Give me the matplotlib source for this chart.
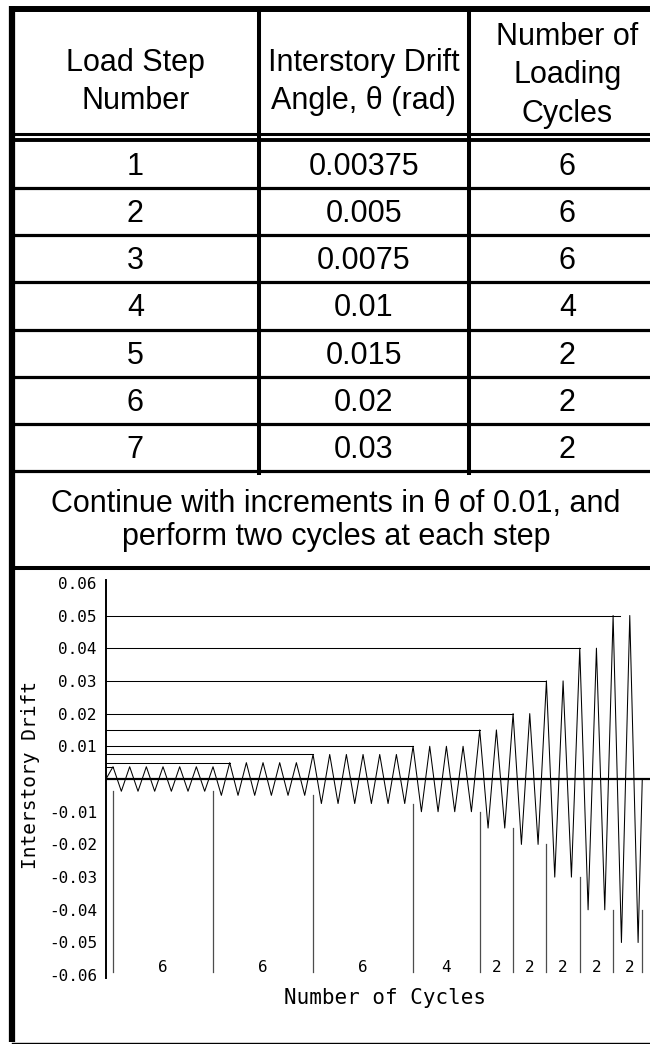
import matplotlib
matplotlib.use('agg')
import matplotlib.pyplot as plt

# loading protocol table
steps = [1, 2, 3, 4, 5, 6, 7]
step_drift = [0.00375, 0.005, 0.0075, 0.01, 0.015, 0.02, 0.03]
step_cycles = [6, 6, 6, 4, 2, 2, 2]
headers = [['Load Step', 'Number'],
           ['Interstory Drift', 'Angle, \u03b8 (rad)'],
           ['Number of', 'Loading', 'Cycles']]
note = ['Continue with increments in \u03b8 of 0.01, and',
        'perform two cycles at each step']

# loading history
group_drift = [0.00375, 0.005, 0.0075, 0.01, 0.015, 0.02, 0.03, 0.04, 0.05]
group_cycles = [6, 6, 6, 4, 2, 2, 2, 2, 2]
peak_drift = ([0.00375] * 7 + [0.005] * 5 + [0.0075] * 6 + [0.01] * 4 +
              [0.015] * 2 + [0.02] * 2 + [0.03] * 2 + [0.04] * 2 + [0.05] * 2)
trough_drift = ([0.00375] * 6 + [0.005] * 6 + [0.0075] * 6 + [0.01] * 4 +
                [0.015] * 2 + [0.02] * 2 + [0.03] * 2 + [0.04] * 2 + [0.05] * 2)
level_end = [0, 7, 12, 18, 22, 24, 26, 28, 30.4]
sep_top = [0.00375, 0.00375, 0.005, 0.0075, 0.01, 0.015, 0.02, 0.03, 0.04, 0.04]
yticks = [-0.06, -0.05, -0.04, -0.03, -0.02, -0.01,
          0.01, 0.02, 0.03, 0.04, 0.05, 0.06]

W, H = 650, 1044
fig = plt.figure(figsize=(W / 100, H / 100), dpi=100)

# overlay in pixel units for the table
frame = fig.add_axes([0, 0, 1, 1])
frame.set_xlim(0, W)
frame.set_ylim(H, 0)
frame.axis('off')

tab_font = ['Liberation Sans', 'DejaVu Sans']
x_left, x_right = 11.5, 700
col_edges = [x_left, 259, 468.5, 666]
col_mid = [(col_edges[i] + col_edges[i + 1]) / 2 for i in range(3)]

frame.plot([x_left, x_left], [6, H - 2], color='k', lw=4.5, solid_capstyle='butt')
frame.plot([x_left - 3, x_right], [9, 9], color='k', lw=4.3, solid_capstyle='butt')
frame.plot([x_left, x_right], [133.5, 133.5], color='k', lw=2.2)
frame.plot([x_left, x_right], [140, 140], color='k', lw=2.8)
frame.plot([x_left, x_right], [H - 1.5, H - 1.5], color='k', lw=1.0)

row_top = 141
row_h = 47.14
n_rows = len(steps)
for i in range(1, n_rows + 1):
    frame.plot([x_left, x_right], [row_top + i * row_h] * 2, color='k', lw=2.3)
for xc in col_edges[1:3]:
    frame.plot([xc, xc], [9, row_top + n_rows * row_h + 4], color='k', lw=2.9,
               solid_capstyle='butt')

# header cells, baselines spread around the cell middle
for j, lines in enumerate(headers):
    n = len(lines)
    mid = 90 if n == 2 else 83.5
    for k, line in enumerate(lines):
        yb = mid + (k - (n - 1) / 2) * 38.5
        frame.text(col_mid[j], yb, line, ha='center', va='baseline',
                   fontsize=22, family=tab_font)

# body rows
for i in range(n_rows):
    yb = row_top + i * row_h + 34
    vals = [str(steps[i]), str(step_drift[i]), str(step_cycles[i])]
    for j, v in enumerate(vals):
        frame.text(col_mid[j], yb, v, ha='center', va='baseline',
                   fontsize=22, family=tab_font)

frame.text(336, 512, note[0], ha='center', va='baseline', fontsize=22, family=tab_font)
frame.text(336, 545, note[1], ha='center', va='baseline', fontsize=22, family=tab_font)
frame.plot([x_left, x_right], [568, 568], color='k', lw=2.9)

# drift history chart
cyc_px = 16.67
x0_px = 113
ax_l, ax_r = 106, 650
y0_px, ypx = 779, 3270
y_top, y_bot = 0.062, -0.063
xmin = (ax_l - x0_px) / cyc_px
xmax = (ax_r - x0_px) / cyc_px
ax = fig.add_axes([ax_l / W, (H - (y0_px - y_bot * ypx)) / H,
                   (ax_r - ax_l) / W, (y_top - y_bot) * ypx / H])
ax.set_xlim(xmin, xmax)
ax.set_ylim(y_bot, y_top)
ax.patch.set_alpha(0)
for s in ['top', 'right', 'bottom']:
    ax.spines[s].set_visible(False)
ax.spines['left'].set_linewidth(1.4)
ax.spines['left'].set_bounds(-0.0608, 0.0608)
ax.set_xticks([])
ax.set_yticks(yticks)
ax.set_yticklabels([f'{v:.2f}' for v in yticks], family='DejaVu Sans Mono', fontsize=11.5)
ax.tick_params(axis='y', length=0, pad=6.5)

xs, ys = [xmin], [0.0]
for k in range(len(peak_drift)):
    xs += [k, k + 0.5]
    ys += [peak_drift[k], -trough_drift[k]]
xs.append(len(peak_drift) - 0.25)
ys.append(0.0)
ax.plot(xs, ys, color='k', lw=0.75)

for lev, xe in zip(group_drift, level_end):
    ax.plot([xmin, xe], [lev, lev], color='k', lw=0.75)

ax.axhline(0, color='k', lw=1.6)

starts = [0]
for n in group_cycles:
    starts.append(starts[-1] + n)
starts[-1] = starts[-1] - 0.25
for xs_, top in zip(starts, sep_top):
    ax.plot([xs_, xs_], [-top, -0.059], color='0.3', lw=0.9)
for s0, n in zip(starts[:-1], group_cycles):
    ax.text(s0 + n / 2, -0.0575, str(n), ha='center', va='center',
            family='DejaVu Sans Mono', fontsize=11.5)

fig.text(385 / W, 1 - 998 / H, 'Number of Cycles', ha='center', va='center',
         family='DejaVu Sans Mono', fontsize=15)
fig.text(31 / W, 1 - 775 / H, 'Interstory Drift', ha='center', va='center',
         rotation=90, family='DejaVu Sans Mono', fontsize=14)

fig.savefig('out.png', dpi=100)
